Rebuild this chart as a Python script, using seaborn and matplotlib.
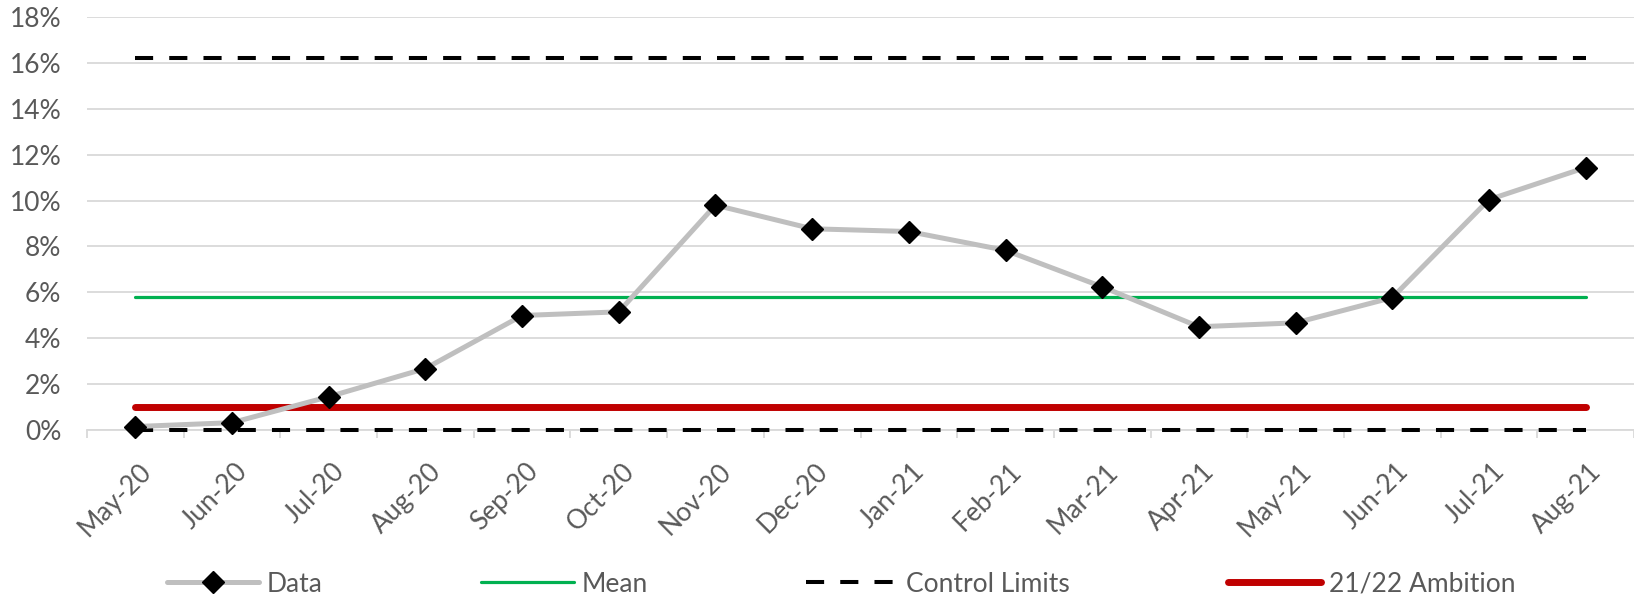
import numpy as np
import pandas as pd
import matplotlib
matplotlib.use("Agg")
import matplotlib.pyplot as plt
from matplotlib.transforms import ScaledTranslation
import seaborn as sns

# Monthly rate (%) with SPC reference levels
months = ["May-20", "Jun-20", "Jul-20", "Aug-20", "Sep-20", "Oct-20", "Nov-20", "Dec-20",
          "Jan-21", "Feb-21", "Mar-21", "Apr-21", "May-21", "Jun-21", "Jul-21", "Aug-21"]
rate = [0.15, 0.32, 1.45, 2.68, 4.99, 5.15, 9.80, 8.77,
        8.65, 7.83, 6.24, 4.50, 4.67, 5.77, 10.04, 11.44]
mean_level = 5.78
upper_limit = 16.2
lower_limit = 0.0
ambition = 1.0
y_ticks = [0, 2, 4, 6, 8, 10, 12, 14, 16, 18]

sns.set_theme(style="white")
plt.rcParams["font.family"] = ["Lato", "DejaVu Sans"]

TEXT = "#595959"
GRID = "#d9d9d9"

df = pd.DataFrame({"pos": np.arange(len(months)), "rate": rate})
n = len(months)

fig = plt.figure(figsize=(16.34, 5.96), dpi=100)
ax = fig.add_axes([87 / 1634, 166 / 596, (1634 - 87) / 1634, 413 / 596])

sns.lineplot(data=df, x="pos", y="rate", ax=ax, color="#BFBFBF", lw=3.6,
             marker="D", markersize=11.5, markerfacecolor="black",
             markeredgecolor="black", markeredgewidth=1, label="Data", zorder=5)
sns.lineplot(x=df["pos"], y=np.full(n, mean_level), ax=ax, color="#00B050",
             lw=2.3, label="Mean", zorder=3)
sns.lineplot(x=df["pos"], y=np.full(n, upper_limit), ax=ax, color="black",
             lw=2.9, label="Control Limits", zorder=3)
sns.lineplot(x=df["pos"], y=np.full(n, lower_limit), ax=ax, color="black",
             lw=2.9, zorder=3)
sns.lineplot(x=df["pos"], y=np.full(n, ambition), ax=ax, color="#C00000",
             lw=5.0, label="21/22 Ambition", zorder=4)

lines = ax.get_lines()
for ln in lines:
    ln.set_solid_capstyle("round")
    ln.set_clip_on(False)
for ln in lines[2:4]:
    ln.set_dashes((4.5, 4.0))
    ln.set_dash_capstyle("butt")

ax.set_xlim(-0.5, 15.35)
ax.set_ylim(0, 18)
ax.set_yticks(y_ticks)
ax.set_yticklabels([f"{v}%" for v in y_ticks])
ax.grid(axis="y", color=GRID, lw=1.3, zorder=0)
ax.grid(axis="x", visible=False)

ax.set_xticks(np.arange(-0.5, n, 1.0))
ax.set_xticklabels([])
ax.set_xticks(np.arange(n), minor=True)
ax.set_xticklabels(months, minor=True, rotation=45, ha="right",
                   rotation_mode="anchor", va="center")
ax.tick_params(axis="x", which="major", length=6, width=1.3, color=GRID,
               direction="out", bottom=True)
ax.tick_params(axis="x", which="minor", length=0, pad=27, labelsize=19,
               labelcolor=TEXT)
ax.tick_params(axis="y", length=0, pad=18.5, labelsize=19, labelcolor=TEXT)
shift = ScaledTranslation(12 / 100, 0, fig.dpi_scale_trans)
for lab in ax.get_xticklabels(minor=True):
    lab.set_transform(lab.get_transform() + shift)

for side in ["left", "right", "top"]:
    ax.spines[side].set_visible(False)
ax.spines["bottom"].set_color(GRID)
ax.spines["bottom"].set_linewidth(1.3)
ax.set_xlabel("")
ax.set_ylabel("")

handles, labels = ax.get_legend_handles_labels()
if ax.legend_:
    ax.legend_.remove()
leg = fig.legend(handles, labels, loc="center", bbox_to_anchor=(841 / 1634, 12 / 596),
                 ncol=4, frameon=False, fontsize=19, handlelength=3.5,
                 handletextpad=0.3, columnspacing=6.0, numpoints=1)
for t in leg.get_texts():
    t.set_color(TEXT)

fig.savefig("out.png", dpi=100)
